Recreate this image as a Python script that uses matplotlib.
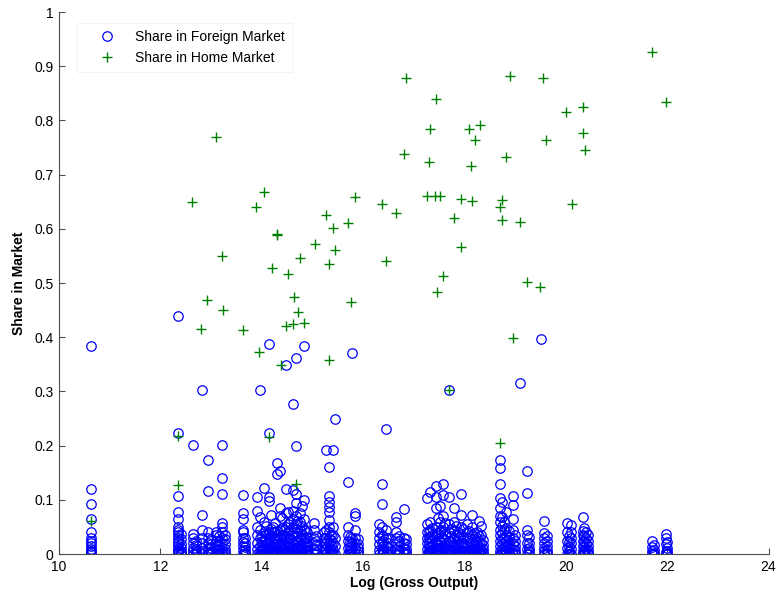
import numpy as np
import matplotlib
matplotlib.use("Agg")
import matplotlib.pyplot as plt

plt.rcParams['font.family'] = ['Liberation Sans', 'DejaVu Sans']

# Share in foreign market: columns of firms at the same log gross output
foreign_cols = [10.63, 12.35, 12.40, 12.64, 12.70, 12.82, 12.94, 13.00, 13.10, 13.16,
                13.21, 13.27, 13.63, 13.68, 13.90, 13.96, 14.00, 14.04, 14.09, 14.14,
                14.18, 14.22, 14.26, 14.30, 14.36, 14.40, 14.44, 14.48, 14.52, 14.56,
                14.61, 14.67, 14.70, 14.75, 14.79, 14.83, 14.87, 14.90, 15.03, 15.08,
                15.22, 15.27, 15.32, 15.36, 15.40, 15.44, 15.70, 15.74, 15.78, 15.84,
                15.90, 16.31, 16.37, 16.40, 16.45, 16.50, 16.65, 16.70, 16.80, 16.85,
                17.26, 17.30, 17.32, 17.36, 17.43, 17.47, 17.51, 17.54, 17.57, 17.62,
                17.69, 17.73, 17.79, 17.84, 17.88, 17.93, 17.98, 18.05, 18.10, 18.14,
                18.19, 18.24, 18.28, 18.32, 18.36, 18.70, 18.74, 18.78, 18.82, 18.88,
                18.95, 19.00, 19.09, 19.23, 19.27, 19.52, 19.58, 19.62, 20.02, 20.06,
                20.10, 20.33, 20.36, 20.40, 20.44, 21.71, 21.75, 21.97, 22.00]
foreign_vals = [
    [0.384, 0.12, 0.092, 0.065, 0.04, 0.03, 0.025, 0.02, 0.015, 0.01, 0.006, 0.003, 0.0],
    [0.44, 0.223, 0.107, 0.077, 0.065, 0.05, 0.045, 0.04, 0.035, 0.03, 0.025, 0.02, 0.015, 0.01, 0.006, 0.003, 0.0],
    [0.038, 0.028, 0.018, 0.011, 0.005, 0.002, 0.0],
    [0.201, 0.038, 0.03, 0.02, 0.012, 0.006, 0.0],
    [0.024, 0.016, 0.009, 0.004, 0.0],
    [0.303, 0.072, 0.045, 0.03, 0.02, 0.012, 0.005, 0.0],
    [0.173, 0.116, 0.04, 0.03, 0.02, 0.01, 0.004, 0.0],
    [0.028, 0.019, 0.012, 0.006, 0.002, 0.0],
    [0.04, 0.035, 0.025, 0.015, 0.008, 0.0],
    [0.033, 0.024, 0.016, 0.009, 0.004, 0.0],
    [0.201, 0.14, 0.111, 0.058, 0.05, 0.04, 0.03, 0.02, 0.012, 0.005, 0.0],
    [0.036, 0.027, 0.018, 0.01, 0.003, 0.0],
    [0.109, 0.076, 0.065, 0.045, 0.04, 0.03, 0.022, 0.015, 0.008, 0.0],
    [0.03, 0.021, 0.013, 0.007, 0.002, 0.0],
    [0.106, 0.079, 0.05, 0.035, 0.02, 0.01, 0.0],
    [0.303, 0.068, 0.045, 0.03, 0.015, 0.005, 0.0],
    [0.033, 0.024, 0.016, 0.01, 0.005, 0.001, 0.0],
    [0.122, 0.06, 0.04, 0.025, 0.012, 0.0],
    [0.052, 0.038, 0.027, 0.018, 0.011, 0.006, 0.002, 0.0],
    [0.387, 0.224, 0.105, 0.098, 0.04, 0.03, 0.02, 0.01, 0.0],
    [0.072, 0.046, 0.034, 0.024, 0.015, 0.008, 0.003, 0.0],
    [0.05, 0.04, 0.03, 0.02, 0.008, 0.0],
    [0.058, 0.041, 0.029, 0.019, 0.012, 0.006, 0.002, 0.0],
    [0.168, 0.148, 0.042, 0.03, 0.018, 0.006, 0.0],
    [0.153, 0.085, 0.07, 0.045, 0.03, 0.015, 0.0],
    [0.066, 0.048, 0.036, 0.025, 0.016, 0.009, 0.004, 0.0],
    [0.045, 0.035, 0.02, 0.01, 0.0],
    [0.349, 0.12, 0.075, 0.05, 0.03, 0.015, 0.004, 0.0],
    [0.078, 0.055, 0.041, 0.03, 0.021, 0.013, 0.007, 0.002, 0.0],
    [0.06, 0.045, 0.03, 0.02, 0.01, 0.0],
    [0.277, 0.118, 0.08, 0.065, 0.05, 0.035, 0.02, 0.008, 0.0],
    [0.362, 0.2, 0.11, 0.095, 0.07, 0.055, 0.04, 0.025, 0.012, 0.0],
    [0.062, 0.047, 0.033, 0.023, 0.014, 0.007, 0.002, 0.0],
    [0.075, 0.06, 0.045, 0.03, 0.015, 0.005, 0.0],
    [0.088, 0.052, 0.038, 0.026, 0.017, 0.01, 0.004, 0.0],
    [0.383, 0.1, 0.065, 0.045, 0.03, 0.02, 0.01, 0.0],
    [0.045, 0.032, 0.022, 0.013, 0.006, 0.001, 0.0],
    [0.04, 0.03, 0.018, 0.008, 0.0],
    [0.057, 0.045, 0.03, 0.02, 0.01, 0.0],
    [0.034, 0.025, 0.016, 0.009, 0.003, 0.0],
    [0.04, 0.03, 0.02, 0.01, 0.0],
    [0.192, 0.045, 0.03, 0.02, 0.01, 0.0],
    [0.16, 0.107, 0.096, 0.087, 0.077, 0.063, 0.05, 0.04, 0.03, 0.02, 0.01, 0.0],
    [0.036, 0.026, 0.017, 0.009, 0.004, 0.0],
    [0.192, 0.05, 0.035, 0.02, 0.008, 0.0],
    [0.25, 0.03, 0.015, 0.0],
    [0.133, 0.05, 0.035, 0.025, 0.012, 0.0],
    [0.031, 0.022, 0.014, 0.007, 0.002, 0.0],
    [0.371, 0.03, 0.02, 0.01, 0.0],
    [0.076, 0.07, 0.045, 0.03, 0.02, 0.01, 0.0],
    [0.028, 0.019, 0.011, 0.005, 0.0],
    [0.055, 0.04, 0.03, 0.018, 0.008, 0.0],
    [0.129, 0.092, 0.05, 0.035, 0.02, 0.01, 0.0],
    [0.033, 0.024, 0.015, 0.008, 0.003, 0.0],
    [0.23, 0.045, 0.03, 0.015, 0.0],
    [0.029, 0.02, 0.012, 0.006, 0.001, 0.0],
    [0.068, 0.06, 0.04, 0.03, 0.02, 0.01, 0.0],
    [0.034, 0.024, 0.015, 0.008, 0.003, 0.0],
    [0.083, 0.03, 0.02, 0.01, 0.0],
    [0.027, 0.018, 0.01, 0.004, 0.0],
    [0.103, 0.055, 0.04, 0.03, 0.02, 0.01, 0.0],
    [0.042, 0.031, 0.021, 0.013, 0.006, 0.002, 0.0],
    [0.115, 0.06, 0.045, 0.03, 0.015, 0.0],
    [0.048, 0.035, 0.024, 0.016, 0.009, 0.004, 0.0],
    [0.125, 0.105, 0.085, 0.05, 0.035, 0.02, 0.008, 0.0],
    [0.066, 0.039, 0.028, 0.019, 0.011, 0.005, 0.001, 0.0],
    [0.089, 0.06, 0.04, 0.025, 0.01, 0.0],
    [0.044, 0.032, 0.022, 0.014, 0.007, 0.002, 0.0],
    [0.129, 0.109, 0.07, 0.05, 0.03, 0.015, 0.0],
    [0.058, 0.037, 0.026, 0.017, 0.01, 0.004, 0.0],
    [0.302, 0.105, 0.055, 0.04, 0.025, 0.01, 0.0],
    [0.047, 0.033, 0.023, 0.015, 0.008, 0.003, 0.0],
    [0.085, 0.06, 0.045, 0.03, 0.015, 0.0],
    [0.052, 0.036, 0.025, 0.016, 0.009, 0.003, 0.0],
    [0.041, 0.029, 0.019, 0.011, 0.005, 0.0],
    [0.11, 0.072, 0.05, 0.035, 0.02, 0.008, 0.0],
    [0.046, 0.031, 0.021, 0.013, 0.006, 0.002, 0.0],
    [0.055, 0.04, 0.03, 0.015, 0.0],
    [0.043, 0.03, 0.02, 0.012, 0.005, 0.0],
    [0.072, 0.05, 0.035, 0.02, 0.01, 0.0],
    [0.039, 0.027, 0.017, 0.009, 0.003, 0.0],
    [0.04, 0.03, 0.02, 0.01, 0.0],
    [0.061, 0.034, 0.023, 0.014, 0.007, 0.002, 0.0],
    [0.052, 0.035, 0.02, 0.008, 0.0],
    [0.026, 0.017, 0.009, 0.003, 0.0],
    [0.173, 0.158, 0.129, 0.104, 0.085, 0.07, 0.059, 0.045, 0.035, 0.025, 0.015, 0.006, 0.0],
    [0.096, 0.068, 0.052, 0.039, 0.028, 0.018, 0.01, 0.004, 0.0],
    [0.06, 0.045, 0.03, 0.015, 0.0],
    [0.078, 0.049, 0.035, 0.024, 0.014, 0.007, 0.002, 0.0],
    [0.043, 0.031, 0.02, 0.011, 0.004, 0.0],
    [0.107, 0.09, 0.065, 0.045, 0.03, 0.02, 0.01, 0.0],
    [0.035, 0.024, 0.015, 0.008, 0.002, 0.0],
    [0.316],
    [0.153, 0.112, 0.044, 0.035, 0.02, 0.01, 0.0],
    [0.031, 0.021, 0.012, 0.005, 0.0],
    [0.397],
    [0.061, 0.039, 0.03, 0.02, 0.012, 0.005, 0.0],
    [0.034, 0.024, 0.015, 0.008, 0.002, 0.0],
    [0.057, 0.04, 0.025, 0.012, 0.0],
    [0.033, 0.022, 0.013, 0.006, 0.001, 0.0],
    [0.053, 0.04, 0.03, 0.02, 0.01, 0.0],
    [0.068, 0.043, 0.035, 0.025, 0.015, 0.006, 0.0],
    [0.048, 0.033, 0.022, 0.013, 0.006, 0.002, 0.0],
    [0.04, 0.03, 0.02, 0.01, 0.0],
    [0.036, 0.025, 0.015, 0.007, 0.002, 0.0],
    [0.024, 0.013, 0.005, 0.0],
    [0.016, 0.008, 0.002, 0.0],
    [0.037, 0.029, 0.018, 0.004, 0.0],
    [0.022, 0.012, 0.006, 0.001, 0.0],
]

# Share in home market
home_x = [10.63, 12.35, 12.35, 12.62, 12.80, 12.92, 13.10, 13.21, 13.23, 13.63,
          13.88, 13.94, 14.04, 14.14, 14.20, 14.30, 14.31, 14.38, 14.48, 14.52,
          14.61, 14.63, 14.67, 14.71, 14.75, 14.83, 15.05, 15.27, 15.32, 15.32,
          15.40, 15.44, 15.70, 15.76, 15.84, 16.37, 16.45, 16.65, 16.80, 16.84,
          17.26, 17.30, 17.32, 17.41, 17.43, 17.45, 17.51, 17.57, 17.69, 17.79,
          17.93, 17.93, 18.10, 18.12, 18.14, 18.20, 18.30, 18.70, 18.70, 18.74,
          18.75, 18.83, 18.89, 18.95, 19.09, 19.23, 19.50, 19.56, 19.60, 20.00,
          20.12, 20.33, 20.33, 20.37, 21.71, 21.97]
home_y = [0.061, 0.218, 0.127, 0.649, 0.415, 0.469, 0.769, 0.550, 0.450, 0.413,
          0.640, 0.373, 0.668, 0.216, 0.528, 0.590, 0.588, 0.349, 0.421, 0.517,
          0.424, 0.474, 0.129, 0.447, 0.546, 0.426, 0.572, 0.625, 0.535, 0.358,
          0.602, 0.561, 0.611, 0.465, 0.659, 0.646, 0.541, 0.629, 0.738, 0.878,
          0.660, 0.723, 0.784, 0.660, 0.839, 0.484, 0.660, 0.513, 0.302, 0.620,
          0.655, 0.566, 0.784, 0.716, 0.652, 0.764, 0.791, 0.640, 0.205, 0.616,
          0.653, 0.732, 0.882, 0.399, 0.612, 0.502, 0.493, 0.878, 0.764, 0.815,
          0.646, 0.825, 0.777, 0.745, 0.926, 0.834]

foreign_x = np.repeat(foreign_cols, [len(v) for v in foreign_vals])
foreign_y = np.concatenate(foreign_vals)

fig = plt.figure(figsize=(7.78, 6.01), dpi=100)
ax = fig.add_axes([0.0758, 0.078, 0.912, 0.902])

ax.plot(foreign_x, foreign_y, 'o', mfc='none', mec='blue', ms=6.8, mew=0.9,
        label='Share in Foreign Market')
ax.plot(home_x, home_y, '+', color='green', ms=6.5, mew=1.0,
        label='Share in Home Market')

ax.set_xlim(10, 24)
ax.set_ylim(0, 1)
ax.set_xticks(np.arange(10, 25, 2))
ax.set_yticks(np.arange(0, 1.01, 0.1))
ax.set_yticklabels(['0', '0.1', '0.2', '0.3', '0.4', '0.5', '0.6', '0.7', '0.8', '0.9', '1'])

for s in ['top', 'right']:
    ax.spines[s].set_visible(False)
for s in ['left', 'bottom']:
    ax.spines[s].set_color('0.3')
ax.tick_params(direction='in', length=4, color='0.3', labelsize=10, pad=4)

ax.set_xlabel('Log (Gross Output)', fontsize=10, fontweight='bold', labelpad=2)
ax.set_ylabel('Share in Market', fontsize=10, fontweight='bold', labelpad=6)

leg = ax.legend(loc='upper left', bbox_to_anchor=(0.025, 0.98), borderaxespad=0,
                fontsize=10, frameon=True, fancybox=False, handlelength=3.4,
                handletextpad=0.3, borderpad=0.5, labelspacing=0.5)
leg.get_frame().set_edgecolor('0.95')
leg.get_frame().set_linewidth(0.8)

fig.savefig('out.png', dpi=100)
